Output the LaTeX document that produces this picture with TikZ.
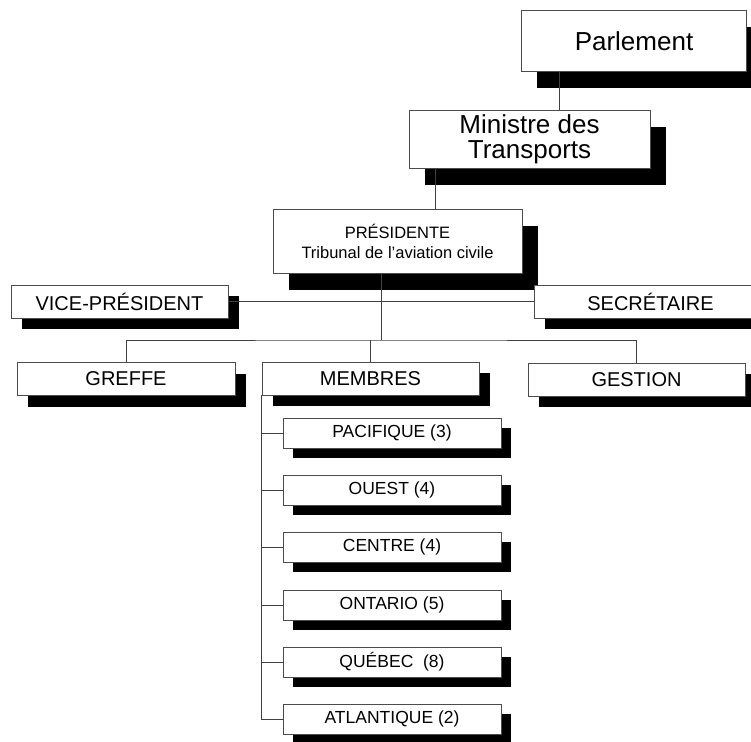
\documentclass[tikz,border=0pt]{standalone}
\usepackage{fontspec}
\setmainfont{Liberation Sans}
\usetikzlibrary{shadows}
\tikzset{
  boite/.style={
    draw=black!70, line width=0.7pt, fill=white,
    inner sep=2pt, align=center
  },
  ombreG/.style={drop shadow={shadow xshift=15.5pt, shadow yshift=-16.5pt, fill=black, opacity=1}},
  ombreM/.style={drop shadow={shadow xshift=10.5pt, shadow yshift=-11pt, fill=black, opacity=1}},
  ombreP/.style={drop shadow={shadow xshift=10pt, shadow yshift=-10pt, fill=black, opacity=1}},
  trait/.style={draw=black!75, line width=0.7pt},
}

\begin{document}
\begin{tikzpicture}[
    x=1pt, y=-1pt,
    haut/.style={
        boite,
        ombreG,
        font=\fontsize{26}{25}\selectfont
    },
    chef/.style={
        boite,
        ombreG,
        font=\fontsize{16.5}{20}\selectfont,
        minimum width=249pt,
        minimum height=64pt
    },
    milieu/.style={
        boite,
        ombreM,
        font=\fontsize{20}{24}\selectfont,
        minimum width=217pt,
        minimum height=33pt
    },
    region/.style={
        boite,
        ombreP,
        font=\fontsize{17.5}{21}\selectfont,
        minimum width=218pt,
        minimum height=30pt
    }
]
\useasboundingbox (0,0) rectangle (751,741);
\clip (0,0) rectangle (751,741);

\node[haut, minimum width=225pt, minimum height=61pt] (parl) at (634,41)
{Parlement};

\node[haut, minimum width=241pt, minimum height=58pt] (min) at (529.5,139)
{Ministre des\\Transports};

\node[chef] (pres) at (397.5,241)
{PRÉSIDENTE\\Tribunal de l’aviation civile};

\node[milieu] (vp) at (119.5,301.5) {VICE-PRÉSIDENT};
\node[milieu, minimum width=233pt] (sec) at (650.5,301.5) {SECRÉTAIRE};

\node[milieu, minimum width=218pt] (gref) at (126,379) {GREFFE};
\node[milieu] (memb) at (370.5,378.5) {MEMBRES};
\node[milieu] (gest) at (636.5,379.5) {GESTION};

\foreach \nom/\texte/\y in {pac/PACIFIQUE (3)/433, oue/OUEST (4)/490,
    cen/CENTRE (4)/547, ont/ONTARIO (5)/605, que/QUÉBEC\ \ (8)/662,
    atl/ATLANTIQUE (2)/719}
  \node[region] (\nom) at (392,\y) {\texte};

\coordinate (c1) at (559,0);
\coordinate (c2) at (435,0);
\coordinate (bus) at (381,340);

\draw[trait] (c1 |- parl.south) -- (c1 |- min.north);
\draw[trait] (c2 |- min.south) -- (c2 |- pres.north);
\draw[trait] (bus |- pres.south) -- (bus);
\draw[trait] (vp.east) -- (sec.west);
\draw[trait] (gref.north) |- (bus) -| (gest.north);
\draw[trait] (bus -| memb.north) -- (memb.north);

\draw[trait] (memb.south west) |- (atl.west);
\foreach \nom in {pac, oue, cen, ont, que}
  \draw[trait] (memb.south west |- \nom.west) -- (\nom.west);

\end{tikzpicture}
\end{document}
